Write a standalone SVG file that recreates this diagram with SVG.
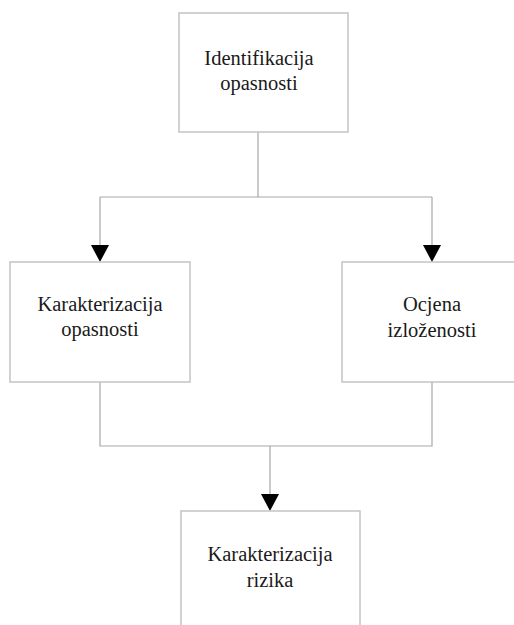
<svg xmlns="http://www.w3.org/2000/svg" width="514" height="625" viewBox="0 0 514 625">
<style>
.box{fill:#fff;stroke:#c4c4c4;stroke-width:1.5}
.lbl{font-family:"Liberation Serif","Times New Roman",serif;font-size:20.5px;fill:#1a1a1a;text-anchor:middle}
.con{fill:none;stroke:#a8a8a8;stroke-width:1.2}
.arr{fill:#000}
</style>
<rect width="514" height="625" fill="#fff"/>
<g id="connectors">
<path class="con" d="M258,132 V197 M100,197 H432 M100,197 V246 M432,197 V246"/>
<path class="con" d="M100,382 V446 H432 V382 M270,446 V495"/>
<polygon class="arr" points="91,245 109,245 100,262"/>
<polygon class="arr" points="423,245 441,245 432,262"/>
<polygon class="arr" points="261,494 279,494 270,511"/>
</g>
<g id="n1">
<rect class="box" x="179" y="13" width="169" height="119"/>
<text class="lbl" x="259" y="65">Identifikacija</text>
<text class="lbl" x="259" y="89.5">opasnosti</text>
</g>
<g id="n2">
<rect class="box" x="10" y="262" width="180" height="120"/>
<text class="lbl" x="100" y="311">Karakterizacija</text>
<text class="lbl" x="100" y="336">opasnosti</text>
</g>
<g id="n3">
<rect class="box" x="342" y="262" width="190" height="120"/>
<text class="lbl" x="432" y="311">Ocjena</text>
<text class="lbl" x="432" y="337">izloženosti</text>
</g>
<g id="n4">
<rect class="box" x="181" y="511" width="179" height="130"/>
<text class="lbl" x="270" y="561">Karakterizacija</text>
<text class="lbl" x="270" y="587">rizika</text>
</g>
</svg>
